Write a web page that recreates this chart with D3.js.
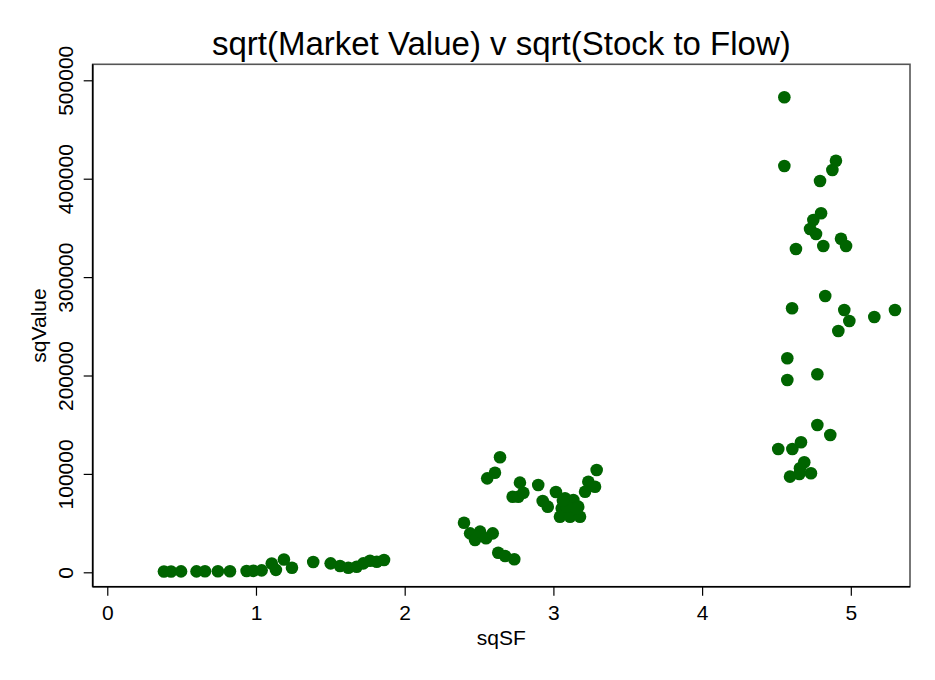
<!DOCTYPE html>
<html>
<head>
<meta charset="utf-8">
<script src="https://cdn.jsdelivr.net/npm/d3@7"></script>
<style>
  body { margin: 0; background: #fff; }
  text { font-family: "Liberation Sans", Arial, Helvetica, sans-serif; fill: #000; }
</style>
</head>
<body>
<svg id="chart" width="935" height="680"></svg>
<script>
// hodnoty: sqSF (x) a sqValue (y)
const sqSF = [
    0.381, 0.429, 0.496, 0.600, 0.657, 0.744, 0.825, 0.937, 0.982, 1.038,
    1.106, 1.134, 1.188, 1.242, 1.385, 1.502, 1.565, 1.621, 1.677, 1.722,
    1.767, 1.812, 1.861,
    2.399, 2.440, 2.473, 2.507, 2.547, 2.592, 2.629, 2.675, 2.737, 2.641,
    2.607, 2.555, 2.775, 2.898, 2.726, 2.764, 2.798, 2.928, 2.962, 3.017,
    3.291, 3.235, 3.280, 3.213, 3.078, 3.134, 3.056, 3.123, 3.167, 3.044,
    3.112, 3.179, 3.089, 3.157, 3.064,
    4.553, 4.553, 4.900, 4.876, 4.793, 4.800, 4.748, 4.726, 4.766, 4.934,
    4.968, 4.815, 4.631, 4.828, 4.605, 4.956, 4.990, 4.916, 5.158, 5.297,
    4.573, 4.573, 4.775, 4.775, 4.862, 4.512, 4.607, 4.665, 4.687, 4.658,
    4.732, 4.591, 4.654
];
const sqValue = [
    800, 800, 900, 900, 1000, 1000, 1000, 1300, 1500, 2000,
    9000, 2500, 13000, 4700, 10500, 9100, 6400, 4700, 5700, 9100,
    11800, 10800, 12500,
    50400, 39600, 32800, 41300, 34600, 39600, 19900, 16600, 13200, 116900,
    101200, 95500, 91100, 88700, 76800, 76800, 80900, 72500, 66700, 81600,
    104000, 92100, 87000, 81900, 75200, 73500, 65000, 65000, 66700, 56500,
    56500, 56500, 66700, 65000, 72600,
    482700, 412900, 418300, 408900, 397700, 364900, 358000, 348900, 343800, 339000,
    331600, 331600, 328600, 280800, 268300, 266600, 255400, 245200, 259500, 266600,
    217500, 195400, 201200, 149700, 139500, 125300, 125300, 132100, 111800, 105700,
    100600, 97200, 99900
];
const xTicks = [0, 1, 2, 3, 4, 5];
const yTicks = [0, 100000, 200000, 300000, 400000, 500000];

const title = "sqrt(Market Value) v sqrt(Stock to Flow)";
const xLabel = "sqSF";
const yLabel = "sqValue";

// rozmery oblasti grafu
const pLeft = 92.7, pRight = 910, pTop = 64.3, pBottom = 586.7;

const svg = d3.select("#chart");

// skalovani, domena s okrajem jako u Staty
const x = d3.scaleLinear().domain([-0.098, 5.398]).range([pLeft, pRight]);
const y = d3.scaleLinear().domain([-14630, 516260]).range([pBottom, pTop]);

// ramecek oblasti grafu
svg.append("rect")
    .attr("x", pLeft).attr("y", pTop)
    .attr("width", pRight - pLeft).attr("height", pBottom - pTop)
    .attr("fill", "none")
    .attr("stroke", "#555")
    .attr("stroke-width", 1.6);

// body
svg.append("g")
    .selectAll("circle")
    .data(sqSF.map((v, i) => ({x: v, y: sqValue[i]})))
    .join("circle")
    .attr("cx", d => x(d.x))
    .attr("cy", d => y(d.y))
    .attr("r", 6.3)
    .attr("fill", "#006400");

// osa x
const gx = svg.append("g")
    .attr("transform", "translate(0," + pBottom + ")")
    .call(d3.axisBottom(x).tickValues(xTicks).tickFormat(d3.format("d")).tickSize(9).tickSizeOuter(0));
gx.select(".domain").attr("stroke", "#000").attr("stroke-width", 1.6)
    .attr("d", "M" + pLeft + ",0H" + pRight);
gx.selectAll(".tick line").attr("stroke", "#000").attr("stroke-width", 1.2);
gx.selectAll(".tick text")
    .attr("y", 33).attr("dy", 0)
    .style("font-size", "21px")
    .style("font-family", "Liberation Sans, Arial, sans-serif")
    .attr("fill", "#000");

// osa y, popisky otocene
const gy = svg.append("g")
    .attr("transform", "translate(" + pLeft + ",0)")
    .call(d3.axisLeft(y).tickValues(yTicks).tickFormat(d3.format("d")).tickSize(9).tickSizeOuter(0));
gy.select(".domain").attr("stroke", "#000").attr("stroke-width", 1.6)
    .attr("d", "M0," + pTop + "V" + pBottom);
gy.selectAll(".tick line").attr("stroke", "#000").attr("stroke-width", 1.2);
gy.selectAll(".tick text")
    .attr("transform", "rotate(-90)")
    .attr("x", 0).attr("y", -19.5).attr("dy", 0)
    .attr("text-anchor", "middle")
    .style("font-size", "21px")
    .style("font-family", "Liberation Sans, Arial, sans-serif")
    .attr("fill", "#000");

// titulek a popisky os
svg.append("text")
    .attr("x", (pLeft + pRight) / 2).attr("y", 55)
    .attr("text-anchor", "middle")
    .style("font-size", "33px")
    .text(title);

svg.append("text")
    .attr("x", (pLeft + pRight) / 2).attr("y", 645)
    .attr("text-anchor", "middle")
    .style("font-size", "21px")
    .text(xLabel);

svg.append("text")
    .attr("transform", "translate(46," + (pTop + pBottom) / 2 + ") rotate(-90)")
    .attr("text-anchor", "middle")
    .style("font-size", "21px")
    .text(yLabel);
</script>
</body>
</html>
